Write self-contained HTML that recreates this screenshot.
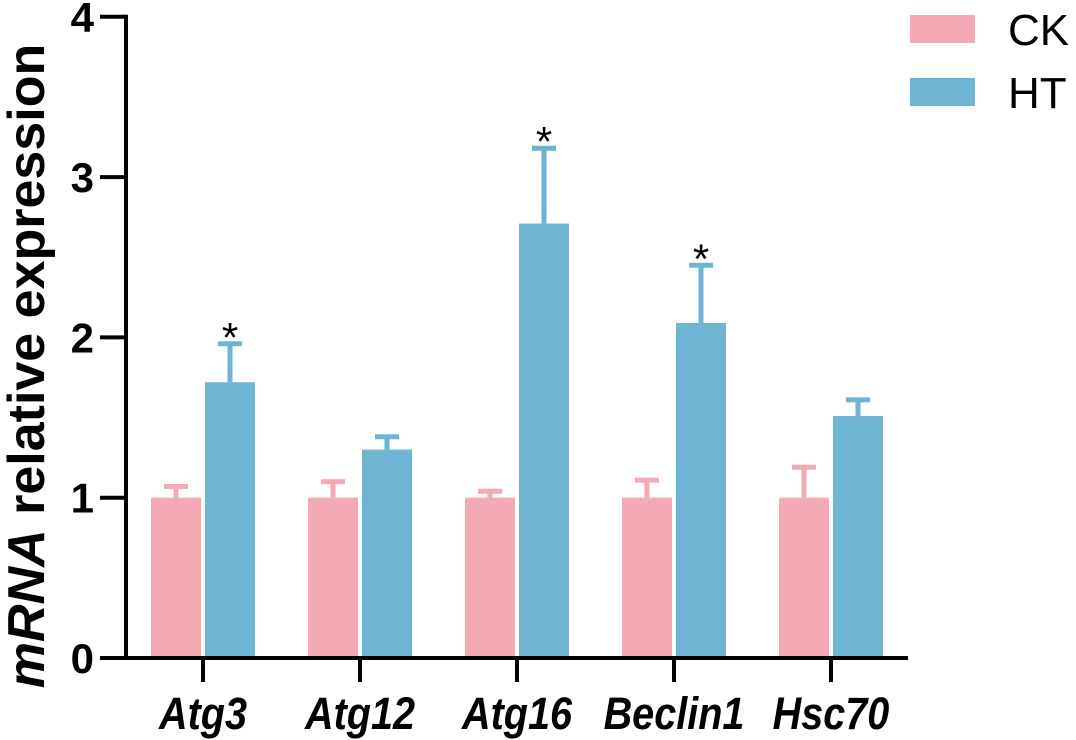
<!DOCTYPE html>
<html><head><meta charset="utf-8"><style>
html,body{margin:0;padding:0;background:#fff;}
svg{display:block;font-family:"Liberation Sans",Arial,sans-serif;}
</style></head><body>
<svg id="chart" width="1076" height="740" viewBox="0 0 1076 740" xmlns="http://www.w3.org/2000/svg">
<g id="plot"></g>
</svg>
<script>
const categories = ["Atg3","Atg12","Atg16","Beclin1","Hsc70"];
const ckValues = [1,1,1,1,1];
const ckErrTop = [1.07,1.10,1.04,1.11,1.19];
const htValues = [1.72,1.30,2.71,2.09,1.51];
const htErrTop = [1.96,1.38,3.18,2.45,1.61];
const significant = [true,false,true,true,false];
const yTicks = [0,1,2,3,4];

const NS="http://www.w3.org/2000/svg";
const g=document.getElementById('plot');
const y0=658, pxPerUnit=160.3;
function yScale(v){return y0 - v*pxPerUnit;}
function xCenter(i){return 203 + i*157;}
function mk(tag,attrs,parent){const e=document.createElementNS(NS,tag);for(const k in attrs)e.setAttribute(k,attrs[k]);(parent||g).appendChild(e);return e;}
const pink="#f4a9b5", blue="#6eb5d3", bw=50;

categories.forEach((c,i)=>{
  const cx=xCenter(i);
  const x1=cx-bw-2;
  const eb1=mk('line',{x1:x1+bw/2,x2:x1+bw/2,y1:yScale(ckValues[i]),y2:yScale(ckErrTop[i]),stroke:pink,'stroke-width':5});
  
  
  const cap1=mk('line',{x1:x1+bw/2-12,x2:x1+bw/2+12,y1:yScale(ckErrTop[i]),y2:yScale(ckErrTop[i]),stroke:pink,'stroke-width':5});
  
  
  const r1=mk('rect',{x:x1,y:yScale(ckValues[i]),width:bw,height:y0-yScale(ckValues[i]),fill:pink});
  
  
  const x2=cx+2;
  const eb2=mk('line',{x1:x2+bw/2,x2:x2+bw/2,y1:yScale(htValues[i]),y2:yScale(htErrTop[i]),stroke:blue,'stroke-width':5});
  
  
  const cap2=mk('line',{x1:x2+bw/2-12,x2:x2+bw/2+12,y1:yScale(htErrTop[i]),y2:yScale(htErrTop[i]),stroke:blue,'stroke-width':5});
  
  
  const r2=mk('rect',{x:x2,y:yScale(htValues[i]),width:bw,height:y0-yScale(htValues[i]),fill:blue});
  
  
  if(significant[i]){
    const s=mk('text',{x:x2+bw/2,y:yScale(htErrTop[i])+8,'text-anchor':'middle','font-size':42,fill:'#000'});
    s.textContent='*';
    
    
  }
  const t=mk('line',{x1:cx,x2:cx,y1:y0,y2:682,stroke:'#000','stroke-width':4});
  
  
  const l=mk('text',{transform:'translate('+cx+',729) scale(0.88,1)','text-anchor':'middle','font-size':45,'font-weight':'bold','font-style':'italic',fill:'#000'});
  l.textContent=c;
  
  
});

yTicks.forEach(v=>{
  const t=mk('line',{x1:100,x2:126,y1:yScale(v),y2:yScale(v),stroke:'#000','stroke-width':4});
  
  
  const l=mk('text',{x:94,y:yScale(v)+15,'text-anchor':'end','font-size':42,'font-weight':'bold',fill:'#000'});
  l.textContent=v;
  
  
});

const ya=mk('line',{x1:126,x2:126,y1:yScale(4)-2,y2:y0+2,stroke:'#000','stroke-width':4});


const xa=mk('line',{x1:124,x2:908,y1:y0,y2:y0,stroke:'#000','stroke-width':4});



const yt=mk('text',{transform:'translate(44,366) rotate(-90)','text-anchor':'middle','font-size':52,'font-weight':'bold',fill:'#000'});
yt.innerHTML='<tspan font-style="italic">mRNA</tspan> relative expression';



[["CK",pink,15],["HT",blue,78]].forEach(([n,col,y])=>{
  const r=mk('rect',{x:910,y:y,width:65,height:28,fill:col});
  
  
  const t=mk('text',{x:1008,y:y+30,'font-size':44,fill:'#000'});
  t.textContent=n;
  
  
});
</script>
</body></html>
